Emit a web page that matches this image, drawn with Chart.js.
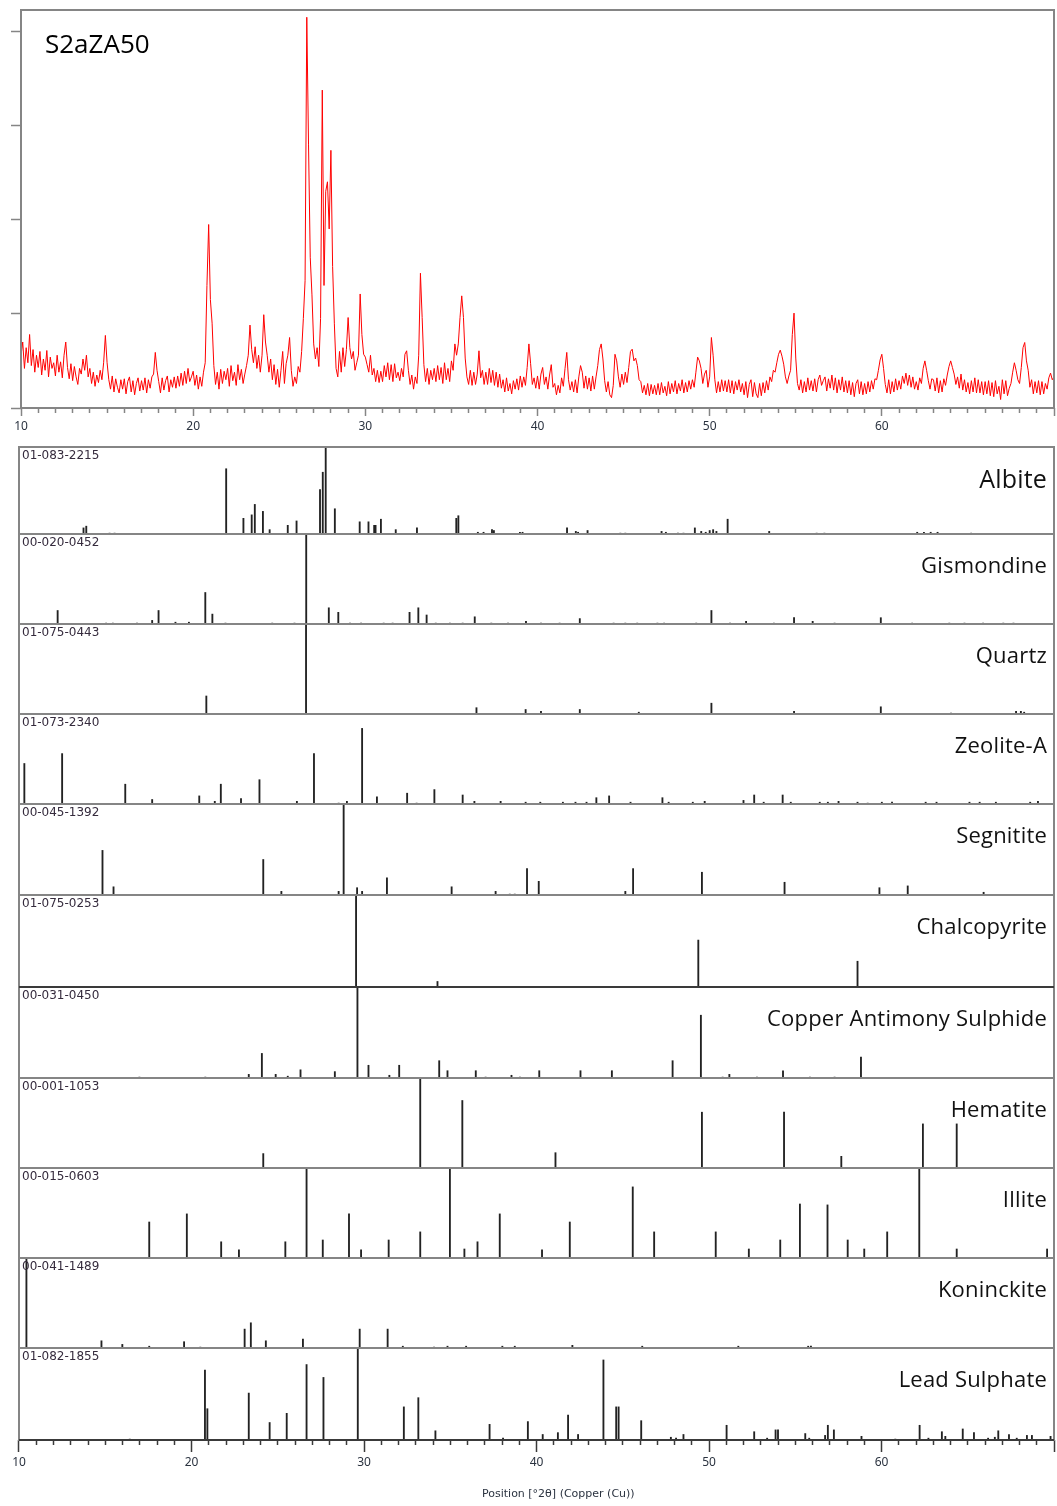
<!DOCTYPE html>
<html>
<head>
<meta charset="utf-8">
<title>S2aZA50 - XRD scan with reference patterns</title>
<script src="https://cdn.jsdelivr.net/npm/chart.js@4.4.1/dist/chart.umd.min.js"></script>
<style>
  html, body { margin: 0; padding: 0; background: #fff; }
  #page { position: relative; width: 1057px; height: 1506px; overflow: hidden; font-family: 'Open Sans', sans-serif; }
  #scan-wrap { position: absolute; left: 0; top: 0; }
  #ref-wrap { position: absolute; left: 0; top: 440px; }
  .sample { position: absolute; left: 45px; top: 30px; font-size: 26px; line-height: 1; color: #000; }
  .code { position: absolute; left: 22px; font-family: 'DejaVu Sans', sans-serif; font-size: 12px; line-height: 1; color: #352b3d; }
  .phase { position: absolute; right: 10px; font-size: 22px; letter-spacing: 0.2px; line-height: 1; color: #111; white-space: nowrap; }
  .xtitle { position: absolute; left: 482px; top: 1488px; font-family: 'DejaVu Sans', sans-serif; font-size: 11px; line-height: 1; color: #2b3340; }
</style>
</head>
<body>
<div id="page">
  <div id="scan-wrap"><canvas id="scan" width="1057" height="440"></canvas></div>
  <div class="sample">S2aZA50</div>
  <div id="ref-wrap"><canvas id="refs" width="1057" height="1066"></canvas></div>
  <div class="xtitle">Position [°2θ] (Copper (Cu))</div>
</div>
<script>
// Measured scan: counts every 0.1 °2θ from 10.0 to 70.0 (one row per degree)
const scanStart = 10.0;
const scanStep = 0.1;
const scanCounts = [
  560, 700, 420, 640, 480, 780, 450, 620, 380, 560,   // 10
  430, 600, 350, 520, 400, 610, 330, 540, 420, 480,   // 11
  340, 560, 380, 490, 320, 560, 700, 430, 310, 470,   // 12
  290, 440, 330, 250, 420, 360, 520, 400, 560, 330,   // 13
  420, 260, 380, 230, 350, 270, 400, 300, 480, 770,   // 14
  480, 300, 200, 340, 170, 310, 220, 160, 300, 200,   // 15
  310, 150, 280, 330, 170, 290, 140, 260, 320, 180,   // 16
  290, 190, 320, 160, 300, 210, 330, 360, 590, 400,   // 17
  280, 160, 320, 190, 290, 340, 170, 300, 220, 330,   // 18
  210, 340, 230, 370, 240, 390, 260, 420, 280, 330,   // 19
  390, 240, 350, 200, 330, 230, 380, 480, 1300, 1947, // 20
  1150, 900, 450, 250, 380, 200, 410, 260, 390, 300,  // 21
  420, 230, 450, 290, 380, 240, 460, 300, 410, 260,   // 22
  360, 450, 560, 880, 620, 480, 650, 420, 560, 380,   // 23
  560, 990, 700, 560, 380, 520, 300, 460, 250, 410,   // 24
  220, 400, 600, 260, 470, 560, 748, 400, 230, 330,   // 25
  260, 440, 380, 600, 950, 1350, 4146, 2800, 1600, 1200, // 26
  680, 520, 640, 440, 950, 3373, 1300, 2300, 2400, 1900, // 27
  2734, 1500, 900, 420, 330, 600, 380, 640, 440, 620, // 28
  960, 640, 520, 600, 400, 480, 560, 1210, 780, 570,  // 29
  540, 460, 380, 560, 350, 420, 280, 400, 270, 390,   // 30
  280, 450, 330, 480, 300, 460, 280, 470, 320, 380,   // 31
  290, 420, 330, 570, 607, 400, 250, 350, 200, 330,   // 32
  260, 560, 1430, 960, 460, 280, 420, 250, 400, 300,  // 33
  420, 280, 450, 300, 430, 260, 480, 300, 420, 280,   // 34
  500, 400, 680, 560, 680, 960, 1190, 960, 530, 330,  // 35
  250, 400, 240, 380, 250, 360, 607, 320, 400, 250,   // 36
  380, 250, 420, 270, 400, 240, 380, 220, 360, 210,   // 37
  300, 170, 320, 180, 260, 150, 290, 200, 310, 190,   // 38
  340, 220, 330, 240, 430, 680, 470, 250, 320, 210,   // 39
  340, 200, 360, 430, 250, 330, 200, 350, 460, 220,   // 40
  260, 140, 240, 160, 320, 230, 420, 590, 300, 190,   // 41
  280, 170, 300, 160, 330, 450, 380, 210, 340, 200,   // 42
  320, 180, 340, 200, 330, 450, 620, 680, 520, 290,   // 43
  170, 280, 140, 110, 240, 570, 500, 330, 220, 360,   // 44
  250, 380, 270, 430, 600, 624, 500, 530, 450, 300,   // 45
  280, 160, 240, 140, 260, 130, 250, 150, 240, 140,   // 46
  260, 140, 270, 160, 230, 130, 280, 150, 260, 170,   // 47
  290, 150, 260, 180, 300, 160, 270, 170, 290, 200,   // 48
  300, 220, 380, 540, 500, 420, 260, 360, 400, 220,   // 49
  330, 748, 560, 300, 160, 280, 170, 300, 180, 290,   // 50
  170, 300, 160, 290, 150, 280, 190, 300, 170, 260,   // 51
  140, 280, 110, 250, 300, 120, 270, 150, 110, 260,   // 52
  130, 270, 160, 290, 190, 330, 280, 400, 380, 480,   // 53
  570, 614, 550, 465, 330, 260, 340, 400, 780, 1007,  // 54
  530, 260, 190, 300, 160, 280, 170, 320, 190, 290,   // 55
  180, 310, 170, 300, 350, 240, 290, 330, 180, 310,   // 56
  210, 350, 190, 320, 160, 300, 190, 330, 170, 290,   // 57
  160, 290, 140, 270, 120, 260, 300, 150, 280, 140,   // 58
  260, 150, 280, 170, 290, 200, 310, 300, 400, 510,   // 59
  570, 420, 250, 160, 300, 150, 280, 170, 310, 190,   // 60
  290, 200, 340, 260, 370, 240, 350, 220, 330, 200,   // 61
  280, 190, 320, 260, 420, 500, 400, 290, 200, 310,   // 62
  300, 180, 320, 160, 290, 170, 310, 240, 350, 440,   // 63
  500, 430, 360, 250, 330, 210, 360, 190, 300, 170,   // 64
  270, 150, 290, 170, 320, 160, 300, 160, 280, 140,   // 65
  280, 150, 290, 130, 270, 120, 290, 150, 230, 90,    // 66
  300, 150, 290, 130, 210, 260, 380, 480, 400, 300,   // 67
  260, 430, 640, 695, 500, 400, 220, 300, 150, 280,   // 68
  160, 290, 140, 280, 150, 260, 200, 320, 370, 300,   // 69
  330                                                 // 70
];
const scanYTicks = [0, 1000, 2000, 3000, 4000];

// Reference patterns: [position °2θ, relative intensity %]
const albite = [[13.74,7],[13.9,9],[15.25,1],[15.54,1],[22.01,75],[23.01,18],[23.49,22],[23.67,34],[24.14,26],[24.53,5],
  [25.58,10],[26.09,15],[27.45,51],[27.61,71],[27.78,100],[28.31,29],[29.75,14],[30.26,14],[30.59,10],[30.67,10],
  [30.98,17],[31.84,5],[33.07,7],[35.35,18],[35.47,21],[36.6,2],[36.93,2],[37.42,5],[37.53,4],[39.04,2],[39.19,2],
  [41.77,7],[42.28,3],[42.41,2],[42.96,4],[44.86,1],[45.15,1],[47.25,3],[47.5,2],[48.2,1],[48.52,1],[49.18,7],
  [49.55,3],[49.81,2],[50.04,4],[50.24,5],[50.43,3],[51.08,17],[53.49,3],[56.24,1],[56.69,1],[62.07,2],[62.46,2],
  [62.85,2],[63.25,2],[65.2,1]];
const gismondine = [[12.24,15],[15.05,1],[15.44,1],[16.84,1],[17.72,4],[18.09,15],[19.07,2],[19.85,2],[20.8,35],
  [21.21,11],[21.97,1],[24.68,1],[25.97,1],[26.65,100],[27.96,18],[28.51,13],[29.19,1],[29.83,1],[31.14,1],[31.66,1],
  [32.64,13],[33.15,18],[33.63,10],[34.16,1],[34.98,1],[35.72,1],[36.42,8],[37.38,1],[38.35,1],[39.39,3],[40.26,1],
  [41.34,1],[42.51,6],[44.47,1],[45.15,1],[45.84,1],[47.01,1],[47.4,1],[49.26,1],[50.14,15],[51.22,1],[52.15,3],
  [53.76,1],[54.93,7],[56.01,3],[57.28,1],[59.96,7],[61.78,1],[63.93,1],[64.81,1],[65.89,1],[67.06,1],[67.65,1]];
const quartz = [[20.86,20],[26.64,100],[36.52,7],[39.37,5],[40.26,3],[42.51,5],[45.93,2],[50.14,12],[54.93,3],
  [59.96,8],[64.03,1],[67.8,3],[68.08,3],[68.27,2]];
const zeoliteA = [[10.31,45],[12.5,56],[16.16,22],[17.72,5],[20.45,9],[21.35,3],[21.7,22],[22.87,6],[23.94,27],
  [26.11,3],[27.1,56],[28.53,1],[29.01,3],[29.89,84],[30.75,8],[32.5,12],[33.05,1],[34.08,16],[35.72,10],[36.4,3],
  [37.92,3],[39.37,2],[40.22,2],[41.53,2],[42.26,2],[42.9,2],[43.47,7],[44.21,9],[45.45,2],[47.3,7],[47.66,2],
  [49.06,2],[49.75,3],[52.0,4],[52.62,10],[53.17,2],[54.27,10],[54.74,2],[56.42,2],[56.89,2],[57.51,3],[58.61,2],
  [59.2,1],[60.02,2],[60.61,2],[62.56,2],[63.19,2],[65.1,2],[65.69,2],[66.63,2],[68.62,2],[69.07,3]];
const segnitite = [[14.84,49],[15.48,9],[24.16,39],[25.21,4],[28.53,4],[28.82,100],[29.6,8],[29.89,4],[31.33,19],
  [35.08,9],[37.63,4],[38.45,1],[38.74,1],[39.45,29],[40.13,15],[45.15,4],[45.6,29],[49.59,25],[54.38,14],
  [59.88,8],[61.52,10],[65.92,3]];
const chalcopyrite = [[29.54,100],[34.26,6],[49.38,51],[58.61,28]];
const cuSbSulphide = [[16.98,1],[20.8,1],[23.32,4],[24.08,27],[24.88,4],[25.58,2],[26.32,9],[28.31,7],[29.62,100],
  [30.26,14],[31.47,3],[32.04,14],[34.36,19],[34.84,8],[36.48,8],[37.05,1],[38.55,3],[39.04,1],[40.16,8],[42.55,8],
  [44.37,8],[47.89,19],[49.53,69],[50.79,1],[51.18,4],[52.78,1],[54.29,8],[55.85,1],[57.28,1],[58.81,23]];
const hematite = [[24.16,16],[33.26,100],[35.7,75],[41.1,17],[49.59,62],[54.35,62],[57.67,13],[62.4,49],[64.36,49]];
const illite = [[17.55,40],[19.73,49],[21.72,18],[22.75,9],[25.44,18],[26.67,100],[27.61,20],[29.13,49],[29.83,9],
  [31.43,20],[33.26,29],[34.98,100],[35.82,10],[36.58,18],[37.87,49],[40.32,9],[41.93,40],[45.58,79],[46.82,29],
  [50.39,29],[52.31,10],[54.13,20],[55.27,60],[56.87,59],[58.04,20],[59.0,10],[60.33,29],[62.19,100],[64.36,10],
  [69.6,10]];
const koninckite = [[10.43,100],[14.78,8],[15.99,4],[17.55,2],[19.57,7],[20.51,1],[23.08,21],[23.44,28],[24.31,8],
  [26.46,10],[29.75,21],[31.37,21],[32.25,2],[34.06,1],[34.84,2],[35.92,2],[38.02,2],[38.74,2],[42.08,3],[46.13,2],
  [51.7,2],[55.75,2],[55.91,2]];
const leadSulphate = [[16.42,1],[20.78,76],[20.92,34],[23.32,51],[24.53,19],[25.52,29],[26.67,82],[27.65,68],
  [29.64,100],[32.31,36],[33.15,46],[34.14,10],[37.28,17],[38.06,2],[39.5,20],[40.36,6],[41.24,8],[41.83,27],
  [42.41,6],[43.88,87],[44.62,36],[44.76,36],[46.07,21],[47.79,3],[48.09,2],[48.52,6],[51.02,16],[52.62,9],
  [53.37,2],[53.86,11],[54.0,11],[55.58,7],[55.81,2],[56.73,5],[56.89,16],[57.24,11],[58.84,4],[60.8,1],[62.21,16],
  [62.72,2],[63.5,9],[63.7,4],[64.71,12],[65.36,8],[66.18,2],[66.57,3],[66.77,10],[67.39,6],[67.84,2],[68.43,5],
  [68.72,5],[69.8,4]];

const phaseNames = ['Albite', 'Gismondine', 'Quartz', 'Zeolite-A', 'Segnitite', 'Chalcopyrite',
  'Copper Antimony Sulphide', 'Hematite', 'Illite', 'Koninckite', 'Lead Sulphate'];
const phaseCodes = ['01-083-2215', '00-020-0452', '01-075-0443', '01-073-2340', '00-045-1392', '01-075-0253',
  '00-031-0450', '00-001-1053', '00-015-0603', '00-041-1489', '01-082-1855'];
const phaseSticks = [albite, gismondine, quartz, zeoliteA, segnitite, chalcopyrite, cuSbSulphide,
  hematite, illite, koninckite, leadSulphate];

const xTickLabels = [10, 20, 30, 40, 50, 60];

// layout / style
const panelWeights = [87, 90, 90, 90, 91, 92, 91, 90, 90, 90, 92];
const AXIS = '#858585';
const DARK = '#3a3a3a';
const LABEL = '#2b3340';
const TICK_FONT = { family: 'Noto Sans', size: 12 };

// draws a box round every y scale (one per panel); some panel bottoms are drawn darker
const framePlugin = {
    id: 'frame',
    afterDatasetsDraw(chart, args, opts) {
        const { ctx, chartArea } = chart;
        const w = chartArea.right - chartArea.left;
        ctx.save();
        ctx.strokeStyle = AXIS;
        ctx.lineWidth = 2;
        Object.values(chart.scales).forEach(s => {
            if (s.axis !== 'y') return;
            ctx.strokeRect(chartArea.left, s.top, w, s.bottom - s.top);
        });
        ctx.strokeStyle = DARK;
        (opts.darkBottoms || []).forEach(id => {
            const s = chart.scales[id];
            ctx.beginPath();
            ctx.moveTo(chartArea.left, s.bottom);
            ctx.lineTo(chartArea.right, s.bottom);
            ctx.stroke();
        });
        ctx.restore();
    }
};

function xAxis(height, major, minor, tickColor) {
    return {
        type: 'linear',
        min: 10,
        max: 70,
        offset: false,
        afterFit: s => { s.height = height; },
        border: { display: false },
        grid: {
            offset: false,
            drawOnChartArea: false,
            tickLength: major,
            tickColor: tickColor,
            tickWidth: 1.5,
            tickBorderDash: c => (c.tick && c.tick.value % 10 === 0) ? [] : [minor, 40]
        },
        ticks: {
            stepSize: 1,
            autoSkip: false,
            maxRotation: 0,
            includeBounds: false,
            padding: 3,
            color: LABEL,
            font: TICK_FONT,
            callback: v => xTickLabels.includes(v) ? String(v) : ''
        }
    };
}

// Top: measured scan
const scanPoints = scanCounts.map((c, i) => ({ x: +(scanStart + i * scanStep).toFixed(1), y: c }));

new Chart(document.getElementById('scan'), {
    type: 'line',
    data: {
        datasets: [{
            data: scanPoints,
            borderColor: '#ff0000',
            borderWidth: 1,
            pointRadius: 0,
            tension: 0
        }]
    },
    options: {
        responsive: false,
        animation: false,
        events: [],
        layout: { padding: { top: 10, right: 3, left: 0, bottom: 0 } },
        plugins: { legend: { display: false }, tooltip: { enabled: false }, frame: {} },
        scales: {
            x: xAxis(32, 8, 5, AXIS),
            y: {
                min: 0,
                max: 4223,
                offset: false,
                afterFit: s => { s.width = 21; },
                afterBuildTicks: s => { s.ticks = scanYTicks.map(v => ({ value: v })); },
                border: { display: false },
                grid: { offset: false, drawOnChartArea: false, tickLength: 10, tickColor: AXIS, tickWidth: 1.5 },
                ticks: { display: false }
            }
        }
    },
    plugins: [framePlugin]
});

// Bottom: reference stick patterns, one stacked y scale per phase.
// Stacked left axes are laid out bottom-up, so declare them from the last panel.
const refScales = { x: xAxis(66, 12, 5, DARK) };
for (let i = phaseSticks.length - 1; i >= 0; i--) {
    refScales['p' + i] = {
        type: 'linear',
        position: 'left',
        stack: 'refs',
        stackWeight: panelWeights[i],
        min: 0,
        max: 100,
        afterFit: s => { s.width = 19; },
        border: { display: false },
        grid: { display: false },
        ticks: { display: false }
    };
}
const refDatasets = phaseSticks.map((sticks, i) => ({
    label: phaseNames[i],
    yAxisID: 'p' + i,
    data: sticks.map(([pos, rel]) => ({ x: pos, y: rel })),
    backgroundColor: '#222',
    borderWidth: 0,
    barThickness: 1.2,
    grouped: false
}));

const refChart = new Chart(document.getElementById('refs'), {
    type: 'bar',
    data: { datasets: refDatasets },
    options: {
        responsive: false,
        animation: false,
        events: [],
        layout: { padding: { top: 7, right: 3, left: 0, bottom: 0 } },
        plugins: {
            legend: { display: false },
            tooltip: { enabled: false },
            frame: { darkBottoms: ['p5', 'p10'] }
        },
        scales: refScales
    },
    plugins: [framePlugin]
});

// phase labels, placed from the panel scales
const page = document.getElementById('page');
const refTop = 440;
phaseNames.forEach((name, i) => {
    const s = refChart.scales['p' + i];
    const code = document.createElement('div');
    code.className = 'code';
    code.textContent = phaseCodes[i];
    code.style.top = (refTop + s.top + 2) + 'px';
    page.appendChild(code);

    const label = document.createElement('div');
    label.className = 'phase';
    label.textContent = name;
    if (i === 0) label.style.fontSize = '25px';
    label.style.top = (refTop + s.top + 19) + 'px';
    page.appendChild(label);
});
</script>
</body>
</html>
